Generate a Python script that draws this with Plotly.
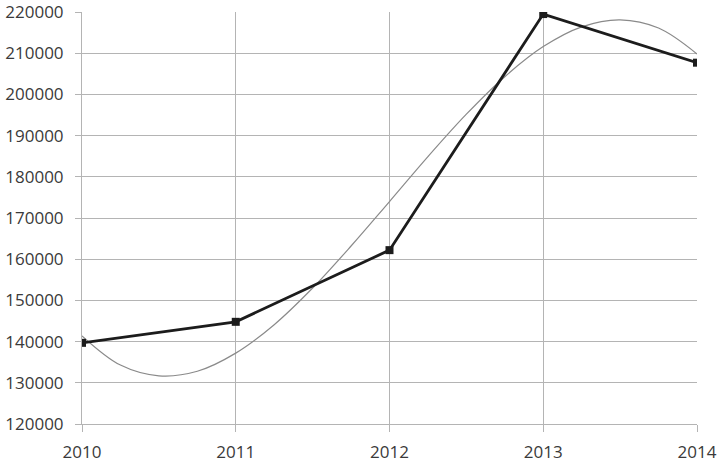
import plotly.graph_objects as go

years = [2010, 2011, 2012, 2013, 2014]
values = [139700, 144800, 162200, 219500, 207700]

# trend curve
trend_x = [2010, 2010.25, 2010.5, 2010.75, 2011, 2011.25, 2011.5, 2011.75, 2012,
           2012.25, 2012.5, 2012.75, 2013, 2013.25, 2013.5, 2013.75, 2014]
trend_y = [141400, 134300, 131700, 132800, 137200, 144100, 153000, 163200, 174000,
           184900, 195200, 204300, 211600, 216400, 218100, 216100, 209800]

y_ticks = [120000, 130000, 140000, 150000, 160000, 170000, 180000, 190000, 200000, 210000, 220000]

fig = go.Figure()

fig.add_trace(go.Scatter(
    x=trend_x, y=trend_y,
    mode="lines",
    line=dict(color="#8a8a8a", width=1.2, shape="spline"),
    hoverinfo="skip"
))

fig.add_trace(go.Scatter(
    x=years, y=values,
    mode="lines+markers",
    line=dict(color="#1c1c1c", width=2.8),
    marker=dict(symbol="square", size=8, color="#1c1c1c")
))

fig.update_layout(
    width=721, height=468,
    margin=dict(l=82, r=24, t=12, b=44),
    plot_bgcolor="white",
    paper_bgcolor="white",
    showlegend=False,
    font=dict(family="Open Sans", size=17, color="#3a3a3a"),
)

fig.update_xaxes(
    range=[2010, 2014],
    tickvals=years,
    ticktext=[str(y) for y in years],
    showgrid=True, gridcolor="#b4b4b4", gridwidth=1,
    showline=True, linecolor="#b4b4b4", linewidth=1,
    ticks="outside", ticklen=7, tickcolor="#b4b4b4",
    ticklabelstandoff=6,
    zeroline=False, automargin=False, ticklabeloverflow="allow",
    tickfont=dict(size=17),
)

fig.update_yaxes(
    range=[120000, 220000],
    tickvals=y_ticks,
    ticktext=[str(v) for v in y_ticks],
    showgrid=True, gridcolor="#b4b4b4", gridwidth=1,
    showline=True, linecolor="#b4b4b4", linewidth=1,
    ticks="outside", ticklen=6, tickcolor="#b4b4b4",
    ticklabelstandoff=8,
    zeroline=False, automargin=False, ticklabeloverflow="allow",
    tickfont=dict(size=17),
)

# drop the default page margin so the figure sits at the window corner
fig.write_html("out.html", config={"displayModeBar": False},
               post_script="document.body.style.margin='0';")
